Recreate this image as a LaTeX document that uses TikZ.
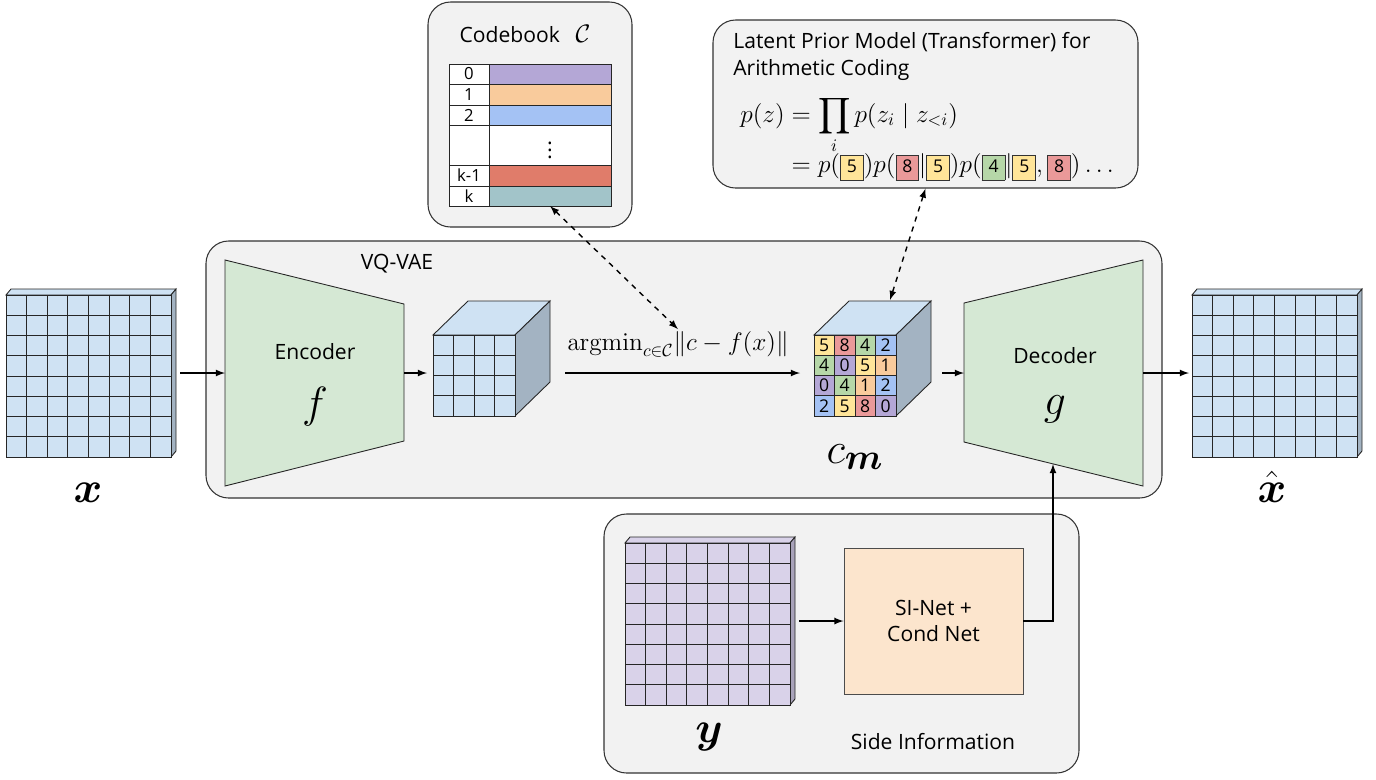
\documentclass[tikz,border=0pt,12pt]{standalone}
\usepackage{amsmath,amssymb}
\usepackage[no-math]{fontspec}
\setmainfont{Open Sans}
\usetikzlibrary{arrows, calc, fit, positioning}

\definecolor{boxgray}{HTML}{F2F2F2}
\definecolor{encgreen}{HTML}{D5E8D4}
\definecolor{imgblue}{HTML}{CFE2F3}
\definecolor{imgside}{HTML}{A3B3C2}
\definecolor{imgpurple}{HTML}{D9D2E9}
\definecolor{purpleside}{HTML}{A9A3BA}
\definecolor{sipeach}{HTML}{FCE5CD}
\definecolor{cpurple}{HTML}{B4A7D6}
\definecolor{corange}{HTML}{F9CB9C}
\definecolor{cblue}{HTML}{A4C2F4}
\definecolor{cred}{HTML}{E07C6A}
\definecolor{cteal}{HTML}{A2C4C9}
\definecolor{tyellow}{HTML}{FFE599}
\definecolor{tred}{HTML}{EA9999}
\definecolor{tgreen}{HTML}{B6D7A8}

% coloured token inside the formula
\newcommand{\tok}[2]{{\setlength{\fboxsep}{2pt}\setlength{\fboxrule}{0.5pt}%
  \fcolorbox{black!80}{#1}{\makebox[8.5pt]{\rule[-2pt]{0pt}{10pt}\fontsize{10}{10}\selectfont #2}}}}

% flat image: x, y, front colour, side colour
\newcommand{\drawimg}[4]{%
  \filldraw[fill=#3, gridline] (#1,#2) -- ++(5,-6) -- ++(165,0) -- ++(-5,6) -- cycle;
  \filldraw[fill=#4, gridline] (#1+165,#2) -- ++(5,-6) -- ++(0,162) -- ++(-5,6) -- cycle;
  \filldraw[fill=#3, gridline] (#1,#2) rectangle ++(165,162);
  \foreach \gi in {1,...,7} {
    \draw[gridline] (#1+\gi*20.625,#2) -- ++(0,162);
    \draw[gridline] (#1,#2+\gi*20.25) -- ++(165,0);
  }
}

% latent cube: x, y of the front face
\newcommand{\drawcube}[2]{%
  \filldraw[fill=imgblue, gridline] (#1,#2) -- ++(35,-34) -- ++(82,0) -- ++(-35,34) -- cycle;
  \filldraw[fill=imgside, gridline] (#1+82,#2) -- ++(35,-34) -- ++(0,81) -- ++(-35,34) -- cycle;
  \filldraw[fill=imgblue, gridline] (#1,#2) rectangle ++(82,81);
}

\tikzset{
  groupbox/.style={draw=black!80, fill=boxgray, line width=0.6pt, rounded corners=0.45cm, inner sep=0pt},
  netblock/.style={draw=black!85, fill=encgreen, line width=0.5pt},
  gridline/.style={draw=black!85, line width=0.5pt},
  flow/.style={-latex, line width=0.8pt},
  link/.style={latex-latex, dashed, line width=0.8pt},
}

\begin{document}
\begin{tikzpicture}[x=0.02cm, y=-0.02cm]
    \useasboundingbox (0,0) rectangle (1376,779);

    \node[groupbox, fit={(428,2) (632,227)}] (codebook) {};
    \node[groupbox, fit={(713,20) (1138,188)}] (prior) {};
    \node[groupbox, fit={(206,241) (1162,498)}] (vqvae) {};
    \node[groupbox, fit={(604,514) (1079,773)}] (side) {};

    % codebook
    \node (cbtitle) at (525,34) {Codebook\hspace{9pt}\large$\mathcal{C}$};
    \foreach \lab/\col/\top/\h in {0/cpurple/64/20, 1/corange/84/21, 2/cblue/105/20, {}/white/125/40, k-1/cred/165/21, k/cteal/186/20} {
        \filldraw[fill=white, gridline] (449,\top) rectangle ++(40,\h);
        \node[font=\fontsize{9.5}{10}\selectfont] at (469,\top+\h/2) {\lab};
        \filldraw[fill=\col, gridline] (489,\top) rectangle ++(122,\h);
    }
    \node (cbdots) at (550,145) {$\vdots$};
    \coordinate (cb-bot) at (550,206);

    % prior model
    \node[anchor=north west, align=left, inner sep=0pt, font=\fontsize{12}{15.4}\selectfont] (priortitle) at (733,32)
        {Latent Prior Model (Transformer) for\\Arithmetic Coding};
    \node[anchor=west, inner sep=0pt, font=\large] (priorformula) at (740,139)
        {$\begin{aligned} p(z) &= \prod_i p(z_i \mid z_{<i})\\[-6pt]
          &= p(\tok{tyellow}{5})p(\tok{tred}{8}|\tok{tyellow}{5})p(\tok{tgreen}{4}|\tok{tyellow}{5},\tok{tred}{8})\dots
        \end{aligned}$};

    \node (vqlabel) at (397,264) {VQ-VAE};

    % encoder
    \filldraw[netblock] (225,260) -- (404,304) -- (404,441) -- (225,486) -- cycle;
    \node (enclabel) at (315,352) {Encoder};
    \node[font=\Huge, anchor=base] (f) at (315,417) {$f$};
    \coordinate (enc-in) at (225,373);
    \coordinate (enc-out) at (404,373);

    % decoder
    \filldraw[netblock] (964,303) -- (1143,260) -- (1143,486) -- (964,442) -- cycle;
    \node (declabel) at (1055,356) {Decoder};
    \node[font=\Huge, anchor=base] (g) at (1055,414) {$g$};
    \coordinate (dec-in) at (964,373);
    \coordinate (dec-out) at (1143,373);
    \coordinate (dec-bot) at (1053,464);

    % images
    \drawimg{6}{295}{imgblue}{imgside}
    \drawimg{1192}{295}{imgblue}{imgside}
    \drawimg{625}{543}{imgpurple}{purpleside}
    \node[font=\Huge, anchor=base] (x) at (88,502) {$\boldsymbol{x}$};
    \node[font=\Huge, anchor=base] (xhat) at (1272,502) {$\hat{\boldsymbol{x}}$};
    \node[font=\Huge, anchor=base] (y) at (709,742) {$\boldsymbol{y}$};
    \coordinate (x-out) at (180,373);
    \coordinate (xhat-in) at (1189,373);
    \coordinate (y-out) at (799,621);

    % latent f(x)
    \drawcube{433}{335}
    \foreach \gi in {1,2,3} {
        \draw[gridline] (433+\gi*20.5,335) -- ++(0,81);
        \draw[gridline] (433,335+\gi*20.25) -- ++(82,0);
    }
    \coordinate (lat-in) at (427,373);
    \coordinate (lat-out) at (565,373);

    % quantised c_m
    \drawcube{814}{335}
    \foreach \d/\c [count=\n from 0] in {5/tyellow,8/tred,4/tgreen,2/cblue,
                                         4/tgreen,0/cpurple,5/tyellow,1/corange,
                                         0/cpurple,4/tgreen,1/corange,2/cblue,
                                         2/cblue,5/tyellow,8/tred,0/cpurple} {
        \pgfmathtruncatemacro\cc{mod(\n,4)}
        \pgfmathtruncatemacro\rr{\n/4}
        \filldraw[fill=\c, gridline] (814+\cc*20.5,335+\rr*20.25) rectangle ++(20.5,20.25);
        \node[font=\fontsize{10}{10}\selectfont] at (824.25+\cc*20.5,345.1+\rr*20.25) {\d};
    }
    \node[font=\Huge, anchor=base] (cm) at (855,463) {$c_{\boldsymbol{m}}$};
    \coordinate (cm-in) at (800,373);
    \coordinate (cm-out) at (942,373);
    \coordinate (cm-top) at (890,300);

    \node[font=\large, inner sep=1pt] (argmin) at (678,344)
        {$\operatorname{argmin}_{c\in\mathcal{C}}\lVert c-f(x)\rVert$};

    % side information
    \node[draw=black!70, fill=sipeach, line width=0.5pt, minimum width=3.58cm, minimum height=2.92cm, align=center] (sinet) at (933.5,621)
        {SI-Net +\\Cond Net};
    \node (sidelabel) at (933,742) {Side Information};

    % connectors
    \draw[flow] (x-out) -- (enc-in);
    \draw[flow] (enc-out) -- (lat-in);
    \draw[flow] (lat-out) -- (cm-in);
    \draw[flow] (cm-out) -- (dec-in);
    \draw[flow] (dec-out) -- (xhat-in);
    \draw[flow] (y-out) -- (sinet.west);
    \draw[flow] (sinet.east) -| (dec-bot);
    \draw[link] (cb-bot) -- (argmin.north);
    \draw[link] (prior.south) -- (cm-top);
\end{tikzpicture}
\end{document}
